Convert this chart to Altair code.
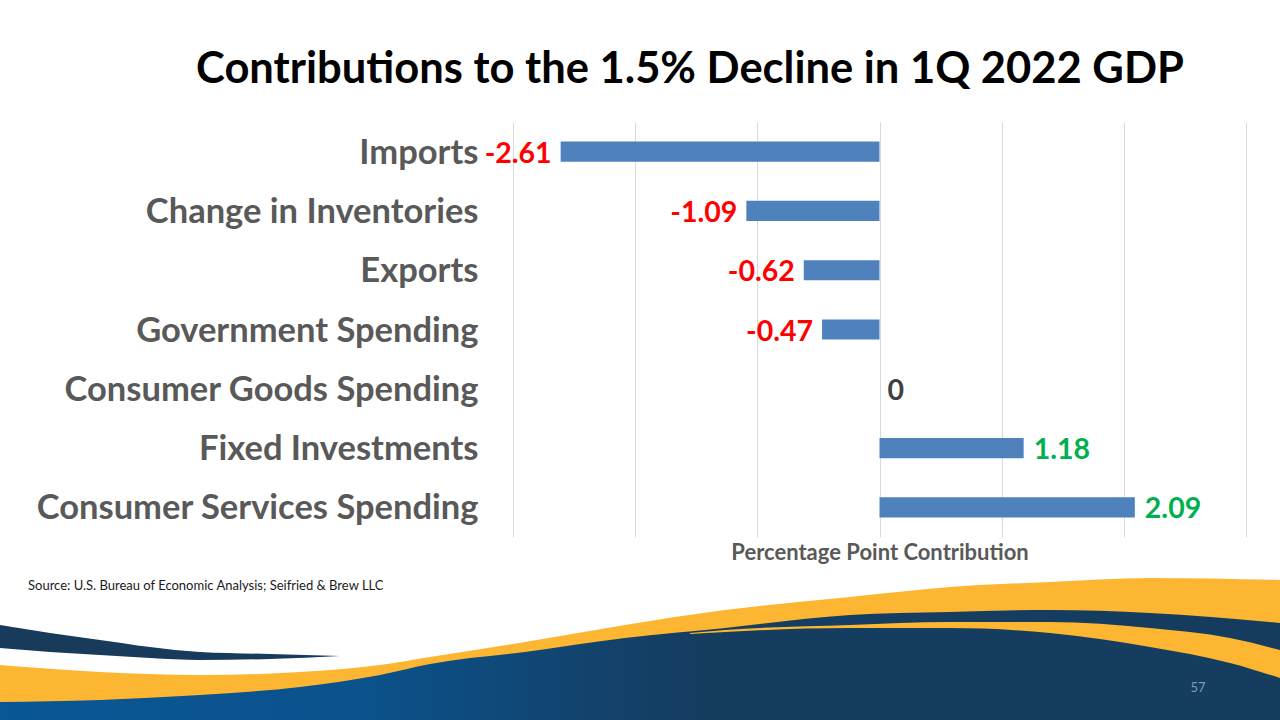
import altair as alt
import pandas as pd

# GDP contributions, 1Q 2022 (percentage points)
categories = [
    "Imports",
    "Change in Inventories",
    "Exports",
    "Government Spending",
    "Consumer Goods Spending",
    "Fixed Investments",
    "Consumer Services Spending",
]
contributions = [-2.61, -1.09, -0.62, -0.47, 0.0, 1.18, 2.09]
value_labels = ["-2.61", "-1.09", "-0.62", "-0.47", "0", "1.18", "2.09"]
x_ticks = [-3, -2, -1, 0, 1, 2, 3]

# footer banner outlines, in page pixels (1280 x 720)
band_x = [0, 100, 200, 300, 380, 430, 525, 625, 725, 850, 950, 1050, 1150, 1280]
gold_top = [665, 672, 675, 672, 665, 657, 642, 625, 610, 597, 587, 582, 578, 580]
navy_top = [702, 700, 695, 687, 675, 664, 652, 638, 628, 615, 612, 610, 613, 623]
inner_x = [690, 725, 850, 950, 1050, 1150, 1230, 1280]
inner_gold_top = [633, 630, 625, 622, 622, 628, 638, 650]
inner_navy_top = [634, 632, 628, 628, 633, 647, 663, 678]
swoosh_x = [0, 50, 100, 150, 200, 270, 340]
swoosh_top = [625, 633, 640, 647, 652, 654, 656]
swoosh_bottom = [648, 652, 655, 658, 660, 659, 656]

FONT = "Lato"
TITLE = "Contributions to the 1.5% Decline in 1Q 2022 GDP"
X_TITLE = "Percentage Point Contribution"

W, H = 733, 415
PAD_L, PAD_T = 513, 122
PAD_R, PAD_B = 1280 - PAD_L - W, 720 - PAD_T - H

x_val = alt.Scale(domain=[-3, 3], nice=False, zero=False)
y_cat = alt.Scale(domain=categories, paddingInner=0.66, paddingOuter=0.33)
page_x = alt.Scale(domain=[0, 1280], range=[-PAD_L, 1280 - PAD_L], nice=False, zero=False)
page_y = alt.Scale(domain=[0, 720], range=[-PAD_T, 720 - PAD_T], nice=False, zero=False)

df = pd.DataFrame({"category": categories, "value": contributions, "label": value_labels})
base = alt.Chart(df)

bars = base.mark_bar(color="#4f81bd").encode(
    x=alt.X(
        "value:Q",
        scale=x_val,
        axis=alt.Axis(
            values=x_ticks, grid=True, gridColor="#d9d9d9", gridWidth=1,
            labels=False, ticks=False, domain=False,
            title=X_TITLE, titleFont=FONT,
            titleFontSize=22, titleFontWeight="bold", titleColor="#595959",
            titlePadding=5,
        ),
    ),
    y=alt.Y(
        "category:N",
        scale=y_cat,
        axis=alt.Axis(
            title=None, ticks=False, domain=False, labelFont=FONT,
            labelFontSize=34.5, labelFontWeight="bold", labelColor="#595959",
            labelPadding=35, labelLimit=0, labelOffset=2,
        ),
    ),
)


def value_text(cond, align, dx, color):
    return base.transform_filter(cond).mark_text(
        align=align, baseline="middle", dx=dx, dy=2, font=FONT,
        fontSize=28.5, fontWeight="bold", color=color,
    ).encode(
        x=alt.X("value:Q", scale=x_val, axis=None),
        y=alt.Y("category:N", scale=y_cat, axis=None),
        text="label:N",
    )


neg_text = value_text(alt.datum.value < 0, "right", -9, "#ff0000")
pos_text = value_text(alt.datum.value > 0, "left", 10, "#00b050")
zero_text = value_text(alt.datum.value == 0, "left", 8, "#404040")


def page_area(xs, tops, color, bottoms=None):
    frame = pd.DataFrame({"px": xs, "top": tops})
    enc = dict(
        x=alt.X("px:Q", scale=page_x, axis=None),
        y=alt.Y("top:Q", scale=page_y, axis=None),
    )
    if bottoms is None:
        enc["y2"] = alt.datum(720)
    else:
        frame["bottom"] = bottoms
        enc["y2"] = alt.Y2("bottom:Q")
    return alt.Chart(frame).mark_area(
        color=color, interpolate="monotone", orient="vertical"
    ).encode(**enc)


navy_gradient = alt.Gradient(
    gradient="linear",
    stops=[
        alt.GradientStop(color="#0a5796", offset=0),
        alt.GradientStop(color="#0b528c", offset=0.28),
        alt.GradientStop(color="#143e63", offset=0.52),
        alt.GradientStop(color="#153c5e", offset=1),
    ],
    x1=0, x2=1, y1=0, y2=0,
)

gold = page_area(band_x, gold_top, "#fcb632")
navy = page_area(band_x, navy_top, navy_gradient)
inner_gold = page_area(inner_x, inner_gold_top, "#fcb632")
inner_navy = page_area(inner_x, inner_navy_top, "#153d60")
swoosh = page_area(swoosh_x, swoosh_top, "#183a5b", swoosh_bottom)

one = pd.DataFrame({"k": [0]})

title = alt.Chart(one).mark_text(
    text=TITLE, align="center", baseline="alphabetic", font=FONT,
    fontSize=43.5, fontWeight="bold", color="#000000",
).encode(x=alt.value(690 - PAD_L), y=alt.value(83 - PAD_T))

source = alt.Chart(one).mark_text(
    text="Source: U.S. Bureau of Economic Analysis; Seifried & Brew LLC",
    align="left", baseline="middle", font=FONT, fontSize=13, color="#1a1a1a",
).encode(x=alt.value(28 - PAD_L), y=alt.value(586 - PAD_T))

page_no = alt.Chart(one).mark_text(
    text="57", align="center", baseline="middle", font=FONT, fontSize=13,
    color="#8497b0",
).encode(x=alt.value(1198 - PAD_L), y=alt.value(688 - PAD_T))

chart = alt.layer(
    gold, navy, inner_gold, inner_navy, swoosh,
    bars, neg_text, pos_text, zero_text,
    title, source, page_no,
).resolve_scale(
    x="independent", y="independent"
).properties(
    width=W,
    height=H,
    padding={"left": PAD_L, "top": PAD_T, "right": PAD_R, "bottom": PAD_B},
    autosize=alt.AutoSizeParams(type="none"),
    background="#ffffff",
).configure_view(stroke=None)

chart.save("out.html", embed_options={"renderer": "svg", "actions": False})
